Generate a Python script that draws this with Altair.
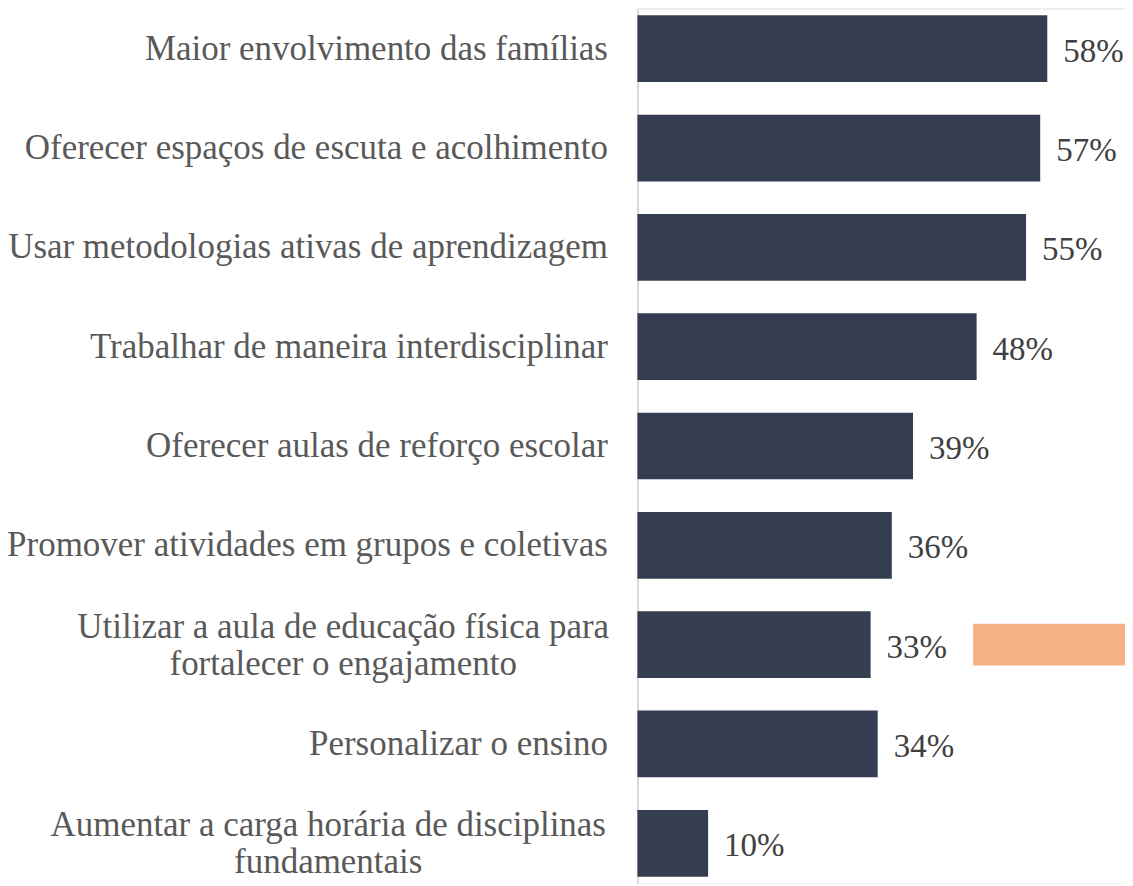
import altair as alt
import pandas as pd

categories = [
    "Maior envolvimento das famílias",
    "Oferecer espaços de escuta e acolhimento",
    "Usar metodologias ativas de aprendizagem",
    "Trabalhar de maneira interdisciplinar",
    "Oferecer aulas de reforço escolar",
    "Promover atividades em grupos e coletivas",
    "Utilizar a aula de educação física para|fortalecer o engajamento",
    "Personalizar o ensino",
    "Aumentar a carga horária de disciplinas|fundamentais",
]
values = [0.58, 0.57, 0.55, 0.48, 0.39, 0.36, 0.33, 0.34, 0.10]
value_labels = ["58%", "57%", "55%", "48%", "39%", "36%", "33%", "34%", "10%"]

highlight_category = ["Utilizar a aula de educação física para|fortalecer o engajamento"]
highlight_start = [0.475]
highlight_end = [0.70]

df = pd.DataFrame({"cat": categories, "val": values, "lbl": value_labels})
hl = pd.DataFrame({"cat": highlight_category, "start": highlight_start, "end": highlight_end})

FONT = "Liberation Serif"

y_enc = alt.Y(
    "cat:N",
    sort=categories,
    title=None,
    scale=alt.Scale(paddingInner=0.328, paddingOuter=0.07),
    axis=alt.Axis(
        ticks=False,
        labelFont=FONT,
        labelFontSize=35,
        labelColor="#595959",
        labelAlign={"condition": {"test": "indexof(datum.label, '|') >= 0", "value": "center"}, "value": "right"},
        labelPadding={
            "condition": [
                {"test": "indexof(datum.label, 'Utilizar') == 0", "value": 295},
                {"test": "indexof(datum.label, 'Aumentar') == 0", "value": 310},
            ],
            "value": 30,
        },
        labelLimit=0,
        labelLineHeight=37,
        labelExpr="split(datum.label, '|')",
        labelOffset={"condition": {"test": "indexof(datum.label, '|') >= 0", "value": -18}, "value": 0},
        domainColor="#d9d9d9",
        domainWidth=2,
        grid=False,
    ),
)
x_scale = alt.Scale(domain=[0, 0.69], clamp=True)

bars = alt.Chart(df).mark_bar(color="#343e50").encode(
    x=alt.X("val:Q", scale=x_scale, axis=None),
    y=y_enc,
)

texts = alt.Chart(df).mark_text(
    align="left", baseline="middle", dx=16, dy=3,
    font=FONT, fontSize=33, color="#404040",
).encode(
    x=alt.X("val:Q", scale=x_scale, axis=None),
    y=alt.Y("cat:N", sort=categories),
    text="lbl:N",
)

highlight = alt.Chart(hl).mark_bar(color="#f4b183", height=42, clip=True).encode(
    x=alt.X("start:Q", scale=x_scale, axis=None),
    x2="end:Q",
    y=alt.Y("cat:N", sort=categories),
)

chart = (
    alt.layer(bars, texts, highlight)
    .properties(
        width=488,
        height=876,
        autosize=alt.AutoSizeParams(type="none"),
        padding={"left": 630, "top": 0, "right": 0, "bottom": 0},
    )
    .configure_view(stroke=None)
    .configure(background="white")
)

chart.save("out.html", embed_options={"renderer": "svg", "actions": False})
